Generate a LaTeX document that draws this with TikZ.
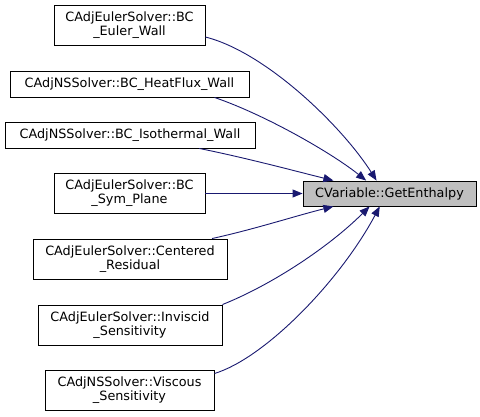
\documentclass[tikz,border=0pt]{standalone}
\usepackage{fontspec}
\setmainfont{DejaVu Sans}
\usetikzlibrary{arrows.meta}

\definecolor{navyline}{RGB}{25,25,112}
\definecolor{hlgray}{RGB}{191,191,191}

\begin{document}
\begin{tikzpicture}[
  x=1pt, y=-1pt,
  every node/.style={draw, line width=0.9pt, align=center, inner sep=1pt,
    minimum height=26pt, font=\fontsize{12.8}{14}\selectfont},
  twoline/.style={minimum height=40pt},
  caller/.style={draw=navyline, line width=0.9pt,
    -{Triangle[length=10pt,width=8pt]}}
]
\useasboundingbox (0,0) rectangle (480,416);

% callers
\node[twoline, minimum width=151pt] (euler) at (129.5,25) {CAdjEulerSolver::BC\\\_Euler\_Wall};
\node[minimum width=239pt] (heatflux) at (129.5,84) {CAdjNSSolver::BC\_HeatFlux\_Wall};
\node[minimum width=250pt] (isotherm) at (130,135) {CAdjNSSolver::BC\_Isothermal\_Wall};
\node[twoline, minimum width=151pt] (symplane) at (129.5,193.5) {CAdjEulerSolver::BC\\\_Sym\_Plane};
\node[twoline, minimum width=194pt] (centered) at (130,259) {CAdjEulerSolver::Centered\\\_Residual};
\node[twoline, minimum width=184pt] (inviscid) at (130,325) {CAdjEulerSolver::Inviscid\\\_Sensitivity};
\node[twoline, minimum width=169pt] (viscous) at (129.5,390) {CAdjNSSolver::Viscous\\\_Sensitivity};

% callee
\node[fill=hlgray, minimum width=173pt, minimum height=25pt] (getH) at (389.5,193.5) {CVariable::GetEnthalpy};

\draw[caller] (euler.-9) .. controls +(60,15) and +(-35,-55) .. (getH.135);
\draw[caller] (heatflux.-9) .. controls +(50,17) and +(-35,-28) .. (getH.151);
\draw[caller] (isotherm.-11) .. controls +(45,9) and +(-40,-10) .. (getH.167);
\draw[caller] (symplane.east) -- (getH.west);
\draw[caller] (centered.14) .. controls +(45,-10) and +(-40,10) .. (getH.193);
\draw[caller] (inviscid.north east) .. controls +(50,-20) and +(-40,40) .. (getH.213);
\draw[caller] (viscous.11) .. controls +(50,-15) and +(-40,75) .. (getH.233);
\end{tikzpicture}
\end{document}
